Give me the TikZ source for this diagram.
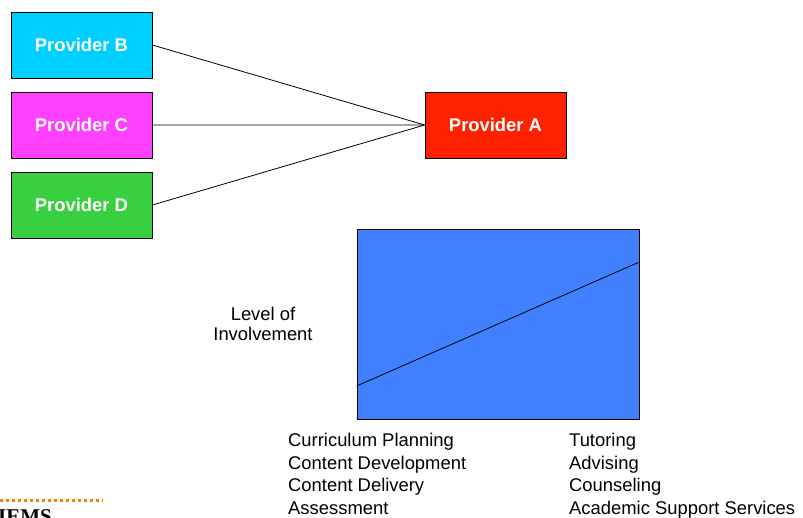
\documentclass[tikz,border=0pt]{standalone}
\usepackage{fontspec}
\setmainfont{Liberation Sans}
\newfontfamily\iemsfont{Liberation Serif}
\usepackage{xcolor}
\usetikzlibrary{positioning}

\definecolor{provB}{HTML}{00D0FF}
\definecolor{provC}{HTML}{FF40FF}
\definecolor{provD}{HTML}{38D040}
\definecolor{provA}{HTML}{FF2200}
\definecolor{levelblue}{HTML}{4080FF}
\definecolor{dotorange}{HTML}{FF8000}

\begin{document}
\begin{tikzpicture}[
  x=1pt, y=-1pt,
  every node/.style={font=\fontsize{18.4}{22.5}\selectfont},
  provider/.style={draw, line width=0.8pt, minimum width=141pt, minimum height=66pt,
    inner sep=0pt, text=white, font=\fontsize{18.4}{22.5}\selectfont\bfseries},
  listtext/.style={align=left, inner sep=0pt, anchor=north west},
  node distance=13.2pt
]
\clip (0,0) rectangle (803,517);

% providers
\node[provider, fill=provB] (pB) at (81.5,45) {Provider B};
\node[provider, fill=provC, below=of pB] (pC) {Provider C};
\node[provider, fill=provD, below=of pC] (pD) {Provider D};
\node[provider, fill=provA] (pA) at (495.5,125) {Provider A};

\draw[line width=0.8pt] (pB.east) -- (pA.west);
\draw[line width=0.8pt] (pC.east) -- (pA.west);
\draw[line width=0.8pt] (pD.east) -- (pA.west);

% level of involvement chart
\node[draw, line width=0.8pt, fill=levelblue, minimum width=282pt, minimum height=190pt,
  inner sep=0pt] (chart) at (498,324) {};
\coordinate (lowend) at ([yshift=-62pt]chart.west);
\coordinate (highend) at ([yshift=62pt]chart.east);
\draw[line width=0.8pt] (lowend) -- (highend);

\node[align=center, inner sep=0pt, anchor=north, font=\fontsize{18.4}{20}\selectfont]
  (level) at (263,306.5) {Level of\\Involvement};

\node[listtext] (academic) at (288,433) {Curriculum Planning\\Content Development\\Content Delivery\\Assessment};
\node[listtext] (support) at (569,433) {Tutoring\\Advising\\Counseling\\Academic Support Services};

% logo corner
\draw[dotorange, line width=3pt, dash pattern=on 3pt off 3pt] (0,500) coordinate (dotstart) -- (103,500) coordinate (dotend);
\node[anchor=north west, inner sep=0pt, font=\fontsize{21}{24}\selectfont\iemsfont\bfseries]
  (logo) at (-2,509.5) {IEMS};
\end{tikzpicture}
\end{document}
